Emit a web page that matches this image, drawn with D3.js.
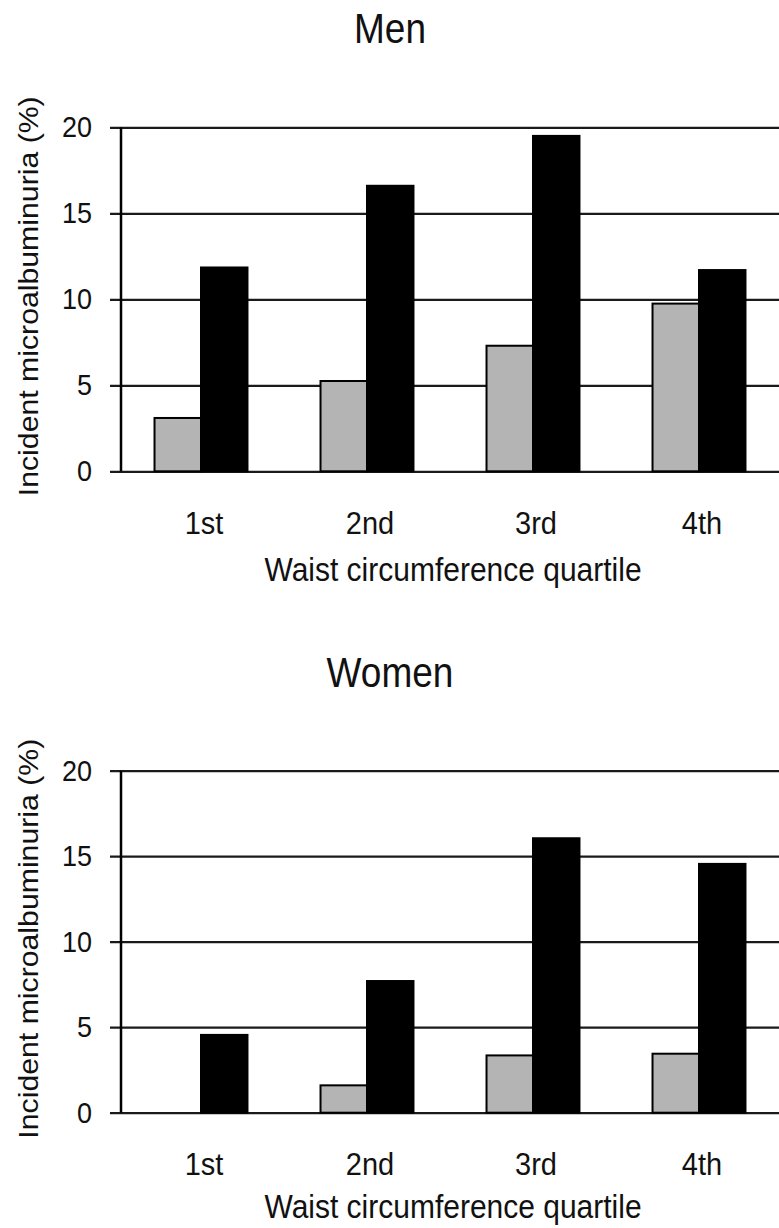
<!DOCTYPE html>
<html>
<head>
<meta charset="utf-8">
<script src="https://cdn.jsdelivr.net/npm/d3@7"></script>
<style>
  body { margin: 0; background: #fff; }
  svg text { font-family: "Liberation Sans", Arial, sans-serif; fill: #111; }
</style>
</head>
<body>
<svg id="chart" width="779" height="1228"></svg>
<script>
// data
var quartiles = ["1st", "2nd", "3rd", "4th"];
var seriesKeys = ["grey", "black"];
var menGrey = [3.1, 5.25, 7.3, 9.75];
var menBlack = [11.85, 16.6, 19.5, 11.7];
var womenGrey = [0, 1.6, 3.35, 3.45];
var womenBlack = [4.55, 7.7, 16.05, 14.55];
var yTicks = [0, 5, 10, 15, 20];
var panelTitles = ["Men", "Women"];
var yLabel = "Incident microalbuminuria (%)";
var xLabel = "Waist circumference quartile";

var svg = d3.select("#chart");
var W = 779;
var axisX = 121, tickStart = 110;
var stretch = 1.1; // source image is a bit taller than wide

var x = d3.scaleBand().domain(quartiles).range([118, 782])
    .paddingInner(0.44).paddingOuter(0.22);
var x1 = d3.scaleBand().domain(seriesKeys).range([0, x.bandwidth()]);
var fills = { grey: "#b4b4b4", black: "#000" };

var panels = [
    { title: panelTitles[0], grey: menGrey, black: menBlack, top: 127.3, bottom: 471.3, titleY: 43, xTitleY: 581 },
    { title: panelTitles[1], grey: womenGrey, black: womenBlack, top: 770.7, bottom: 1112.7, titleY: 687, xTitleY: 1218 }
];

panels.forEach(function (p) {
    var y = d3.scaleLinear().domain([0, 20]).range([p.bottom, p.top]);
    var g = svg.append("g");

    // title
    g.append("text")
        .attr("transform", "translate(390," + p.titleY + ") scale(1,1.15)")
        .attr("text-anchor", "middle")
        .style("font-size", "37px")
        .text(p.title);

    // gridlines + y tick labels
    var yAxis = d3.axisLeft(y).tickValues(yTicks)
        .tickSize(-(W - tickStart)).tickPadding(18);
    var ya = g.append("g")
        .attr("transform", "translate(" + tickStart + ",0)")
        .call(yAxis);
    ya.select(".domain").remove();
    ya.selectAll(".tick line").attr("stroke", "#1a1a1a").attr("stroke-width", 2.2);
    ya.selectAll(".tick text")
        .attr("transform", "scale(1," + stretch + ")")
        .style("font-size", "27px").attr("fill", "#111");

    // bars
    var rows = quartiles.map(function (q, i) {
        return { q: q, grey: p.grey[i], black: p.black[i] };
    });
    var grp = g.selectAll(".grp").data(rows).enter().append("g")
        .attr("transform", function (d) { return "translate(" + x(d.q) + ",0)"; });
    grp.selectAll("rect")
        .data(function (d) {
            return seriesKeys.map(function (k) { return { key: k, value: d[k] }; })
                .filter(function (s) { return s.value > 0; });
        })
        .enter().append("rect")
        .attr("x", function (d) { return x1(d.key); })
        .attr("width", x1.bandwidth())
        .attr("y", function (d) { return y(d.value); })
        .attr("height", function (d) { return y(0) - y(d.value); })
        .attr("fill", function (d) { return fills[d.key]; })
        .attr("stroke", "#000")
        .attr("stroke-width", 2);

    // y axis line
    g.append("line")
        .attr("x1", axisX).attr("x2", axisX)
        .attr("y1", y(20)).attr("y2", y(0))
        .attr("stroke", "#000").attr("stroke-width", 2.5);

    // category labels
    var xAxis = d3.axisBottom(x).tickSize(0).tickPadding(36);
    var xa = g.append("g")
        .attr("transform", "translate(3," + y(0) + ")")
        .call(xAxis);
    xa.select(".domain").remove();
    xa.selectAll(".tick text")
        .attr("transform", "scale(1," + stretch + ")")
        .style("font-size", "29px").attr("fill", "#111");

    // axis titles
    g.append("text")
        .attr("transform", "translate(453," + p.xTitleY + ") scale(1," + stretch + ")")
        .attr("text-anchor", "middle")
        .style("font-size", "30px")
        .text(xLabel);

    g.append("text")
        .attr("transform", "translate(38," + ((p.top + p.bottom) / 2 - 3) + ") scale(1," + stretch + ") rotate(-90)")
        .attr("text-anchor", "middle")
        .style("font-size", "27.5px")
        .text(yLabel);
});
</script>
</body>
</html>
